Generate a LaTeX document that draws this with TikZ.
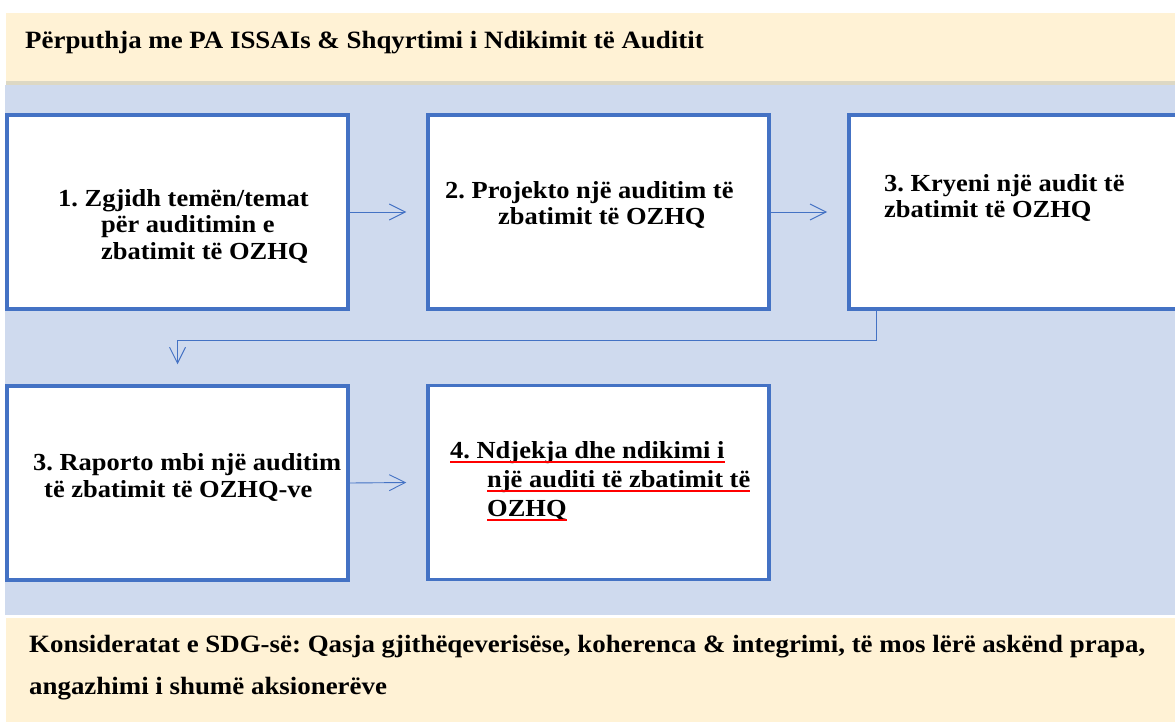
\documentclass[tikz,border=0pt]{standalone}
\usepackage{fontspec}
\setmainfont{Liberation Serif}[FakeStretch=1.08]
\usetikzlibrary{arrows.meta}
\definecolor{cream}{HTML}{FFF2D5}
\definecolor{bandedge}{HTML}{DDD8C4}
\definecolor{paleblue}{HTML}{CFDAEE}
\definecolor{boxblue}{HTML}{4472C4}
\frenchspacing

\begin{document}
\begin{tikzpicture}[x=1pt,y=-1pt,
  stepbox/.style={draw=boxblue,line width=3.5pt,fill=white,minimum width=341pt,minimum height=194pt,inner sep=0pt},
  steptext/.style={anchor=base west,align=left,inner sep=0pt,font=\fontsize{24.5}{26.5}\selectfont\bfseries},
  bandtext/.style={anchor=base west,align=left,inner sep=0pt,font=\fontsize{24.9}{42}\selectfont\bfseries},
  flow/.style={draw=boxblue,line width=0.9pt,-{Straight Barb[length=16pt,width=16pt]}},
  redline/.style={draw=red,line width=2pt}]
\clip (0,0) rectangle (1175,722);
\fill[cream] (6,13) rectangle (1175,81);
\fill[bandedge] (6,81) rectangle (1175,85);
\fill[paleblue] (5,85) rectangle (1175,615);
\fill[cream] (6,618) rectangle (1175,722);

\node[bandtext] (top) at (25,49) {Përputhja me PA ISSAIs \& Shqyrtimi i Ndikimit të Auditit};
\node[bandtext] (bottom) at (29,694) {Konsideratat e SDG-së: Qasja gjithëqeverisëse, koherenca \& integrimi, të mos lërë askënd prapa,\\angazhimi i shumë aksionerëve};

\node[stepbox] (s1) at (177.5,212) {};
\node[stepbox] (s2) at (598.5,212) {};
\node[stepbox] (s3) at (1019.25,212) {};
\node[stepbox] (s4) at (177.5,483) {};
\node[stepbox] (s5) at (598.5,482.5) {};

\node[steptext] (t1) at (58,259) {1. Zgjidh temën/temat\\\hspace*{43pt}për auditimin e\\\hspace*{43pt}zbatimit të OZHQ};
\node[steptext,font=\fontsize{24.5}{26}\selectfont\bfseries] (t2) at (445,225) {2. Projekto një auditim të\\\hspace*{53pt}zbatimit të OZHQ};
\node[steptext,font=\fontsize{24.5}{26}\selectfont\bfseries] (t3) at (884,218) {3. Kryeni një audit të\\zbatimit të OZHQ};
\node[steptext,font=\fontsize{24.5}{27}\selectfont\bfseries] (t4) at (33,497) {3. Raporto mbi një auditim\\\hspace*{11pt}të zbatimit të OZHQ-ve};
\node[steptext] (t5a) at (450,458) {4. Ndjekja dhe ndikimi i};
\node[steptext] (t5b) at (487,487) {një auditi të zbatimit të};
\node[steptext] (t5c) at (487,516) {OZHQ};
\foreach \l in {t5a,t5b,t5c}
  \draw[redline] ([yshift=-3.5pt]\l.base west) -- ([yshift=-3.5pt]\l.base east);

\draw[flow] (s1.east) -- ([xshift=-20pt]s2.west);
\draw[flow] (s2.east) -- ([xshift=-20pt]s3.west);
\draw[flow] ([xshift=29pt]s3.south west) -- ++(0,30) -| ([yshift=20pt]s4.north);
\draw[flow] (s4.east) -- ([xshift=-20pt]s5.west);
\end{tikzpicture}
\end{document}
